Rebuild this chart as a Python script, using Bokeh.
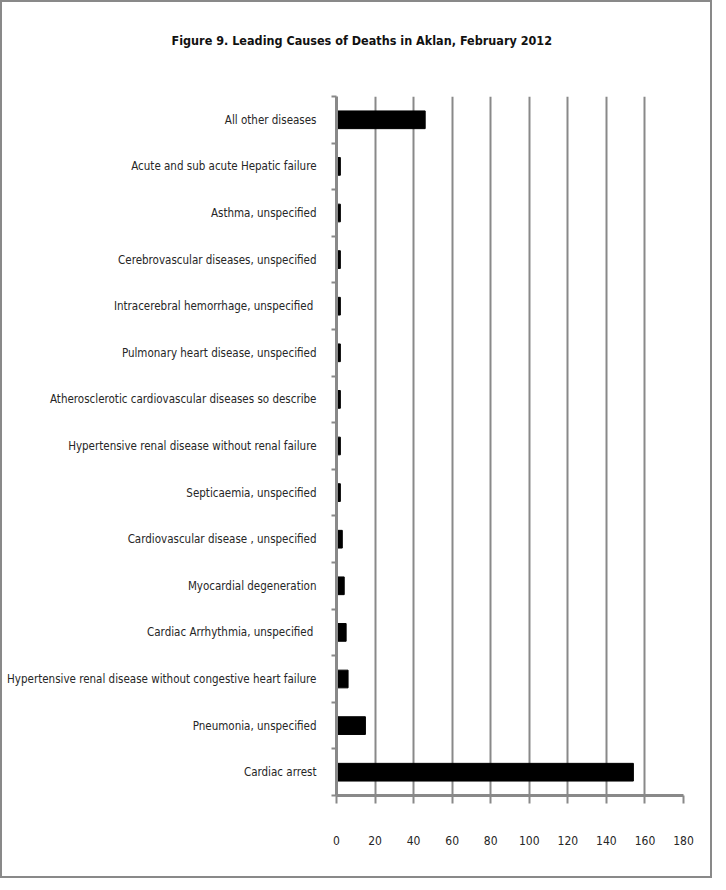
from bokeh.plotting import figure
from bokeh.models import Range1d, FixedTicker, Title
from bokeh.embed import file_html
from bokeh.resources import INLINE

# Causes listed bottom to top
causes = [
    "Cardiac arrest",
    "Pneumonia, unspecified",
    "Hypertensive renal disease without congestive heart failure",
    "Cardiac Arrhythmia,  unspecified",
    "Myocardial degeneration",
    "Cardiovascular disease , unspecified",
    "Septicaemia, unspecified",
    "Hypertensive renal disease without renal failure",
    "Atherosclerotic cardiovascular diseases so describe",
    "Pulmonary heart disease, unspecified",
    "Intracerebral hemorrhage,  unspecified",
    "Cerebrovascular diseases, unspecified",
    "Asthma, unspecified",
    "Acute and sub acute Hepatic failure",
    "All other diseases",
]
deaths = [154, 15, 6, 5, 4, 3, 2, 2, 2, 2, 2, 2, 2, 2, 46]
x_ticks = [0, 20, 40, 60, 80, 100, 120, 140, 160, 180]
title_text = "Figure 9. Leading Causes of Deaths in Aklan, February 2012"

GRAY = "#898989"
FONT = "DejaVu Sans Condensed"

n = len(causes)
centers = [i + 0.5 for i in range(n)]
bounds = list(range(n + 1))

p = figure(width=712, height=878, output_backend="svg", toolbar_location=None,
           x_range=Range1d(x_ticks[0], x_ticks[-1]), y_range=Range1d(0, n),
           min_border_left=334, min_border_right=31, min_border_top=94,
           min_border_bottom=85, title=title_text)
p.styles = {"border": "2px solid " + GRAY}
p.outline_line_color = None
p.background_fill_color = "white"
p.border_fill_color = "white"

p.title.text_font = FONT
p.title.text_font_style = "bold"
p.title.text_font_size = "12.5px"
p.title.text_color = "#111111"
p.title.align = "left"
p.title.vertical_align = "middle"
p.title.offset = -165
p.title.standoff = 0

# blank spacer between the title and the plot area
p.add_layout(Title(text=" ", text_font=FONT, text_font_size="12px", standoff=32), "above")

p.hbar(y=centers, right=deaths, left=0, height=0.38, color="black")

# x axis
xa = p.xaxis[0]
xa.ticker = FixedTicker(ticks=x_ticks)
xa.axis_line_color = GRAY
xa.axis_line_width = 3
xa.major_tick_line_color = GRAY
xa.major_tick_line_width = 2
xa.major_tick_in = 0
xa.major_tick_out = 8
xa.minor_tick_line_color = None
xa.major_label_standoff = 32
xa.major_label_text_font = FONT
xa.major_label_text_font_size = "12px"
xa.major_label_text_color = "#262626"

# y axis
ya = p.yaxis[0]
ya.ticker = FixedTicker(ticks=centers, minor_ticks=bounds)
ya.major_label_overrides = {c: lab for c, lab in zip(centers, causes)}
ya.axis_line_color = GRAY
ya.axis_line_width = 3
ya.major_tick_line_color = None
ya.major_tick_in = 0
ya.major_tick_out = 0
ya.minor_tick_line_color = GRAY
ya.minor_tick_line_width = 2
ya.minor_tick_in = 0
ya.minor_tick_out = 5
ya.major_label_standoff = 15
ya.major_label_text_font = FONT
ya.major_label_text_font_size = "11.5px"
ya.major_label_text_color = "#262626"

p.xgrid.grid_line_color = GRAY
p.xgrid.grid_line_width = 2
p.ygrid.grid_line_color = None

open("out.html", "w").write(file_html(p, INLINE))
